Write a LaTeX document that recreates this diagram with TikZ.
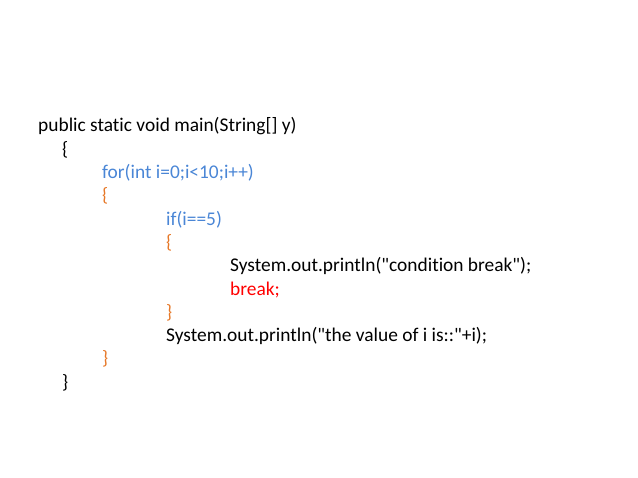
\documentclass[tikz,border=0pt]{standalone}
\usepackage{fontspec}
\setmainfont{Carlito}[Ligatures=NoCommon]
\definecolor{kwblue}{RGB}{74,134,214}
\definecolor{braceorange}{RGB}{230,120,40}
\definecolor{brkred}{RGB}{255,0,0}
\tikzset{
    code/.style={anchor=base west, inner sep=0pt, font=\fontsize{19.4}{23}\selectfont},
    kw/.style={code, text=kwblue},
    brace/.style={code, text=braceorange},
    stop/.style={code, text=brkred}
}
\begin{document}
\begin{tikzpicture}[x=1pt, y=-1pt]
        \useasboundingbox (0, 0) rectangle (638, 478);
        \node[code] (main) at (38, 132) {public static void main(String[] y)};
        \node[code] (mainopen) at (62, 155.3) {\{};
        \node[kw] (for) at (102, 178.6) {for(int i=0;i<10;i++)};
        \node[brace] (foropen) at (102, 201.9) {\{};
        \node[kw] (if) at (166, 225.2) {if(i==5)};
        \node[brace] (ifopen) at (166, 248.5) {\{};
        \node[code] (print1) at (230, 271.8) {System.out.println(\textquotedbl condition break\textquotedbl);};
        \node[stop] (brk) at (230, 295.1) {break;};
        \node[brace] (ifclose) at (166, 318.4) {\}};
        \node[code] (print2) at (166, 341.7) {System.out.println(\textquotedbl the value of i is::\textquotedbl+i);};
        \node[brace] (forclose) at (102, 365) {\}};
        \node[code] (mainclose) at (62, 388.3) {\}};
    \end{tikzpicture}
\end{document}
